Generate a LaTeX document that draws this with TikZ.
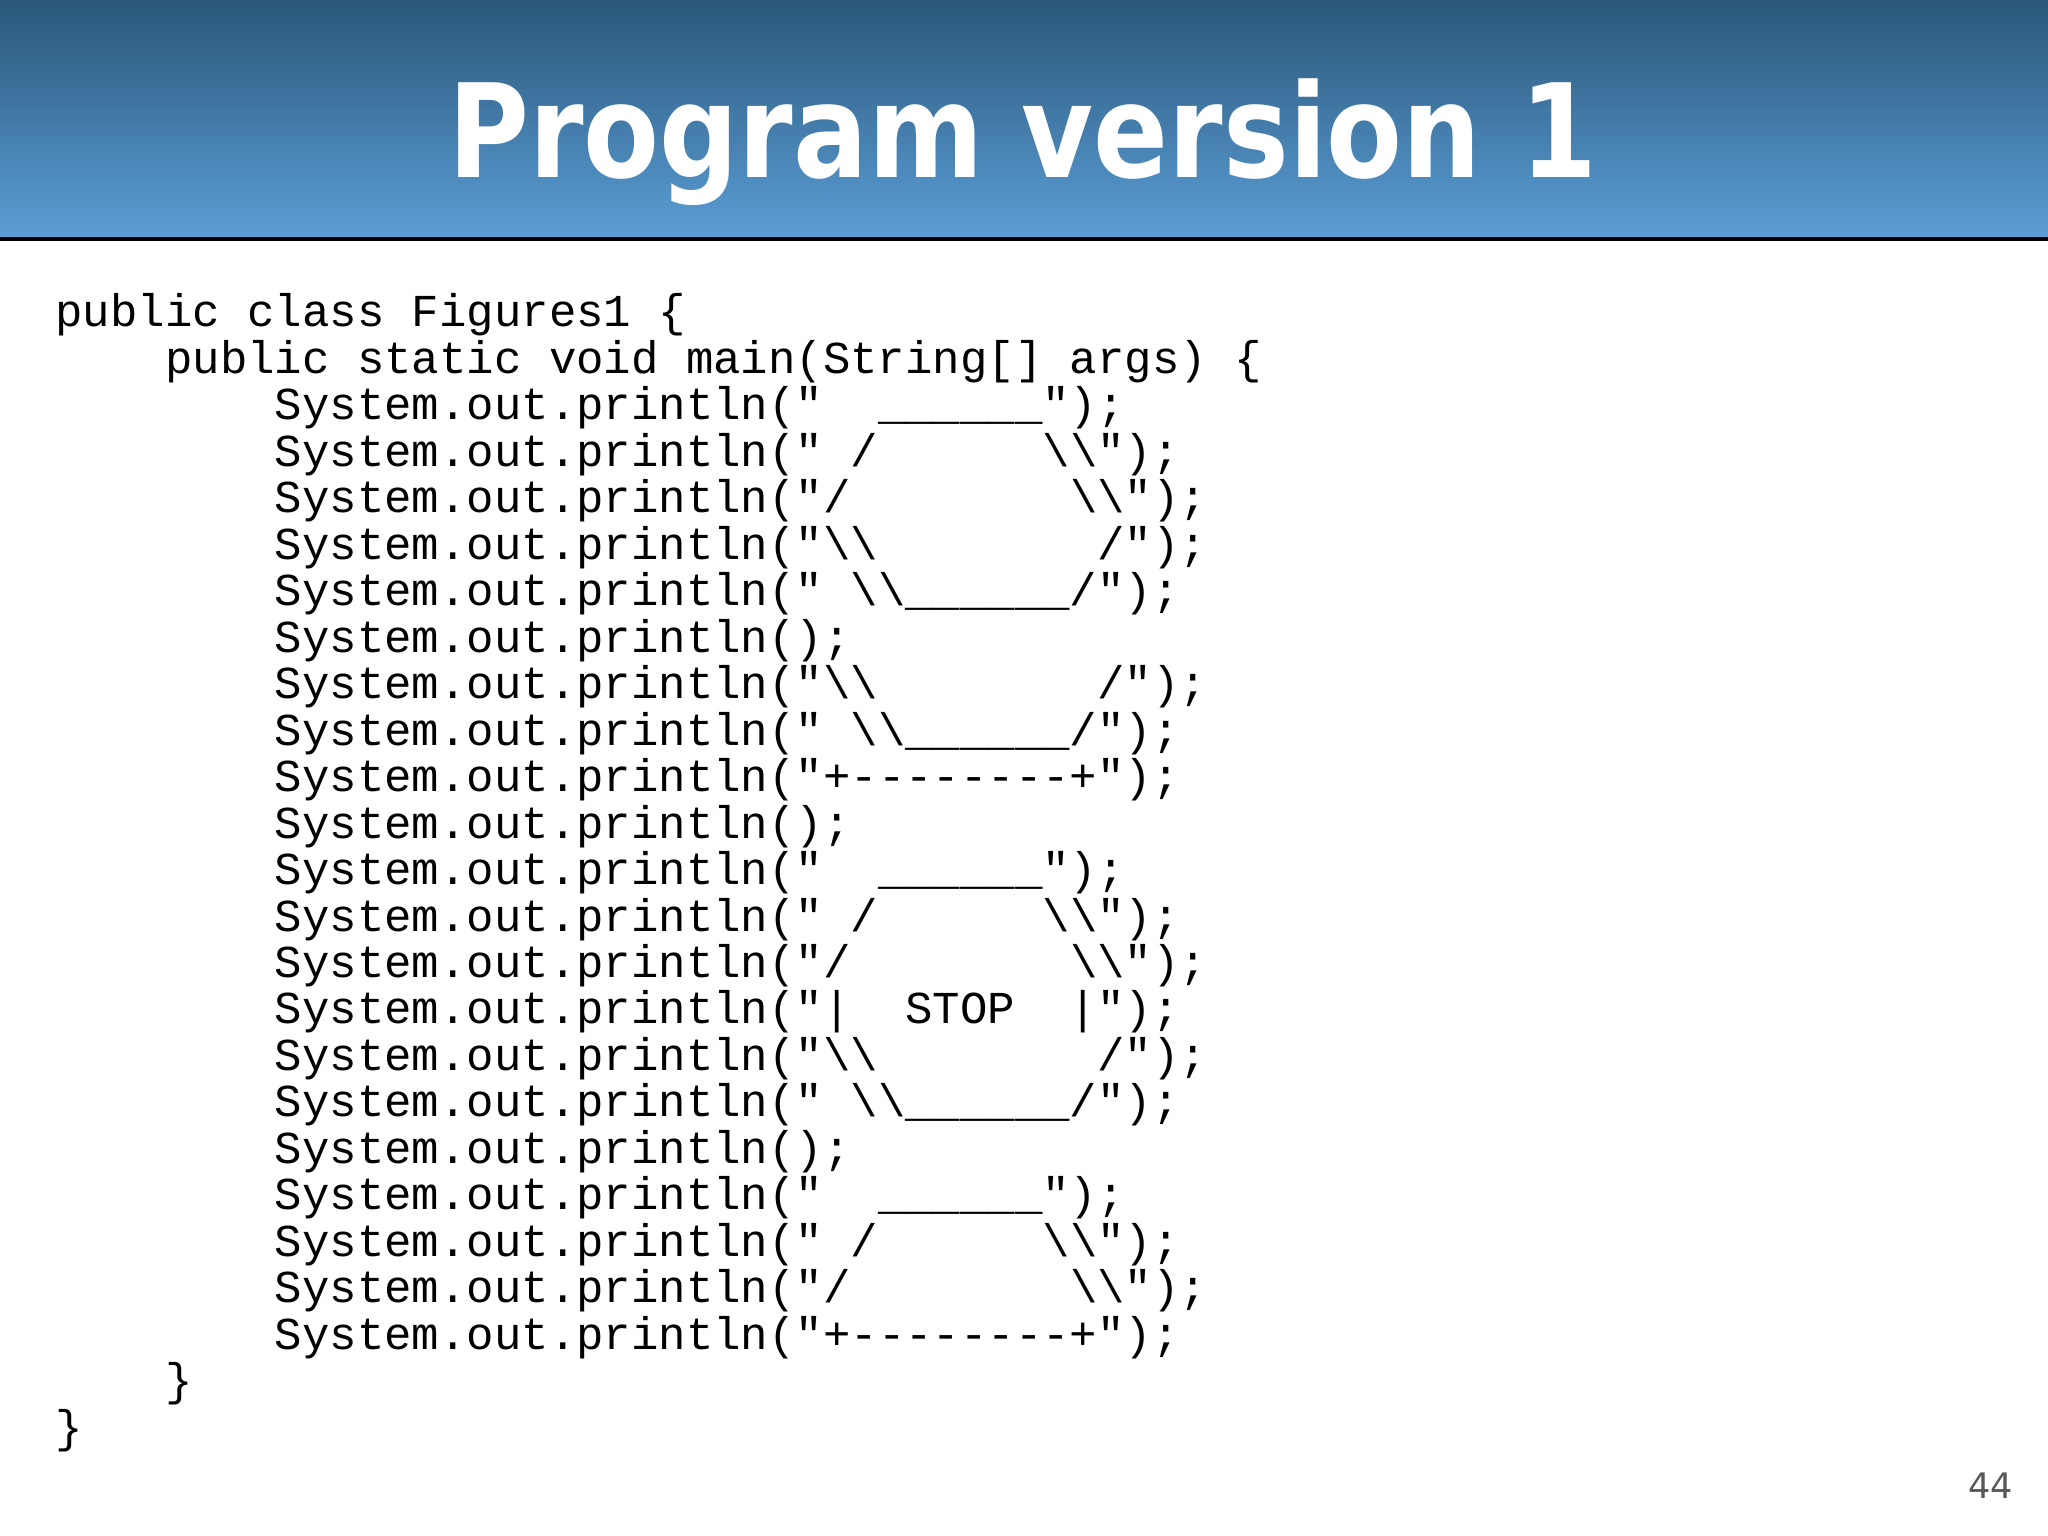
\documentclass[tikz,border=0pt]{standalone}
\usepackage{fontspec}
\setmainfont{DejaVu Sans}
\setmonofont{Liberation Mono}
\begin{document}
\begin{tikzpicture}[x=0.013061cm,y=-0.013061cm,
  code/.style={anchor=base west,inner sep=0pt,font=\fontsize{13pt}{13pt}\ttfamily}]
\definecolor{hdtop}{HTML}{2A5779}
\definecolor{hdbot}{HTML}{5B9ED6}
\useasboundingbox (0,0) rectangle (1568,1176);
\fill[white] (0,0) rectangle (1568,1176);
\shade[top color=hdtop,bottom color=hdbot] (0,0) rectangle (1568,183);
\draw[black,line width=1pt] (0,183) -- (1568,183);
\node[anchor=base,text=white,inner sep=0pt,font=\fontsize{37pt}{37pt}\bfseries] (title) at (783,136) {\scalebox{0.85}[1]{Program version 1}};
\node[code] (l1) at (42,250) {public~class~Figures1~\{};
\node[code] (l2) at (42,285.6) {~~~~public~static~void~main(String[]~args)~\{};
\foreach \i/\t in {
 3/{"~~\_\_\_\_\_\_");},
 4/{"~/~~~~~~\textbackslash\textbackslash");},
 5/{"/~~~~~~~~\textbackslash\textbackslash");},
 6/{"\textbackslash\textbackslash~~~~~~~~/");},
 7/{"~\textbackslash\textbackslash\_\_\_\_\_\_/");},
 8/{);},
 9/{"\textbackslash\textbackslash~~~~~~~~/");},
 10/{"~\textbackslash\textbackslash\_\_\_\_\_\_/");},
 11/{"+--------+");},
 12/{);},
 13/{"~~\_\_\_\_\_\_");},
 14/{"~/~~~~~~\textbackslash\textbackslash");},
 15/{"/~~~~~~~~\textbackslash\textbackslash");},
 16/{"|~~STOP~~|");},
 17/{"\textbackslash\textbackslash~~~~~~~~/");},
 18/{"~\textbackslash\textbackslash\_\_\_\_\_\_/");},
 19/{);},
 20/{"~~\_\_\_\_\_\_");},
 21/{"~/~~~~~~\textbackslash\textbackslash");},
 22/{"/~~~~~~~~\textbackslash\textbackslash");},
 23/{"+--------+");}}
 \node[code] (l\i) at (42,{250+(\i-1)*35.6}) {~~~~~~~~System.out.println(\t};
\node[code] (l24) at (42,{250+23*35.6}) {~~~~\}};
\node[code] (l25) at (42,{250+24*35.6}) {\}};
\node[anchor=base east,inner sep=0pt,text=black!65,font=\fontsize{10pt}{10pt}\selectfont] (pg) at (1542,1147) {44};
\end{tikzpicture}
\end{document}
